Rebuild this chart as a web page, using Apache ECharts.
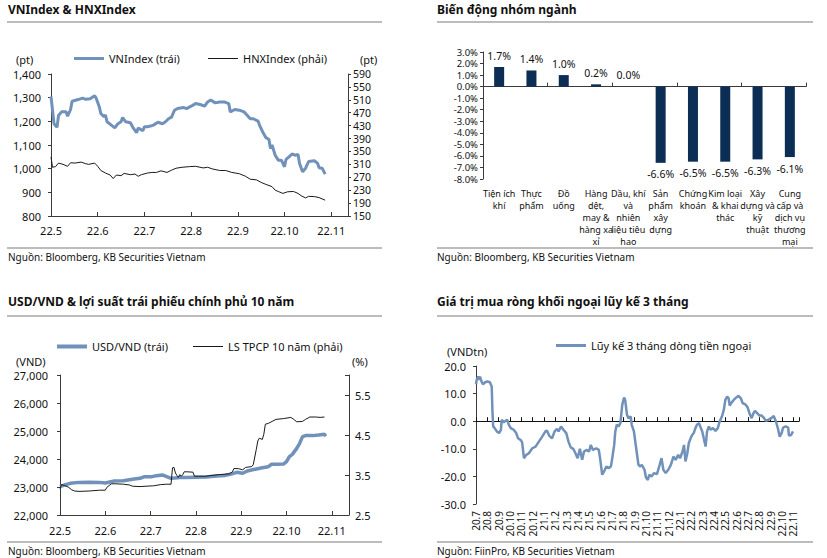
<!DOCTYPE html>
<html><head><meta charset="utf-8">
<script src="https://cdn.jsdelivr.net/npm/echarts@6/dist/echarts.min.js"></script>
<style>html,body{margin:0;padding:0;background:#fff}#c{width:827px;height:558px}</style>
</head><body><div id="c"></div>
<script>
const FONT = '"Noto Sans", "Open Sans", sans-serif';

// ---------- Panel 1: VNIndex & HNXIndex ----------
const vnDates = ['2022-05-01','2022-05-03','2022-05-05','2022-05-06','2022-05-08','2022-05-11','2022-05-12','2022-05-14','2022-05-15','2022-05-19','2022-05-22','2022-05-24','2022-05-27','2022-05-30','2022-05-31',
 '2022-06-02','2022-06-03','2022-06-05','2022-06-06','2022-06-07','2022-06-10','2022-06-12','2022-06-14','2022-06-16','2022-06-17','2022-06-19','2022-06-22','2022-06-24','2022-06-26','2022-06-27','2022-06-30',
 '2022-07-01','2022-07-03','2022-07-05','2022-07-07','2022-07-10','2022-07-13','2022-07-15','2022-07-17','2022-07-19','2022-07-21','2022-07-23','2022-07-27','2022-07-29',
 '2022-08-01','2022-08-04','2022-08-07','2022-08-10','2022-08-12','2022-08-14','2022-08-17','2022-08-20','2022-08-23','2022-08-26','2022-08-27','2022-08-30',
 '2022-09-02','2022-09-05','2022-09-07','2022-09-09','2022-09-11','2022-09-14','2022-09-15','2022-09-17','2022-09-19','2022-09-21','2022-09-22','2022-09-23','2022-09-25','2022-09-27','2022-09-29',
 '2022-10-01','2022-10-02','2022-10-04','2022-10-06','2022-10-08','2022-10-10','2022-10-11','2022-10-13','2022-10-15','2022-10-17','2022-10-21','2022-10-23','2022-10-24','2022-10-26','2022-10-28'];
const vnValues = [1305,1190,1175,1225,1240,1240,1222,1250,1285,1292,1298,1293,1295,1308,1298,
 1262,1233,1220,1226,1198,1183,1172,1190,1198,1216,1198,1194,1170,1152,1172,1160,
 1177,1177,1180,1184,1196,1190,1198,1211,1218,1247,1254,1258,1254,
 1264,1275,1271,1264,1282,1290,1278,1282,1282,1275,1240,1250,
 1247,1240,1226,1211,1211,1201,1183,1155,1132,1123,1085,1100,1057,1036,1036,
 1008,1039,1050,1062,1057,1060,1022,987,1002,1030,1033,1022,1004,1002,977];
const hnxDates = ['2022-05-01','2022-05-02','2022-05-04','2022-05-06','2022-05-09','2022-05-12','2022-05-14','2022-05-17','2022-05-21','2022-05-24','2022-05-26','2022-05-30',
 '2022-06-01','2022-06-03','2022-06-06','2022-06-09','2022-06-11','2022-06-13','2022-06-16','2022-06-18','2022-06-22','2022-06-25','2022-06-27','2022-06-29',
 '2022-07-03','2022-07-06','2022-07-09','2022-07-12','2022-07-16','2022-07-19','2022-07-22','2022-07-26','2022-07-31',
 '2022-08-04','2022-08-09','2022-08-12','2022-08-15','2022-08-20','2022-08-24','2022-08-28',
 '2022-09-02','2022-09-06','2022-09-09','2022-09-13','2022-09-16','2022-09-19','2022-09-23','2022-09-25','2022-09-27','2022-09-30',
 '2022-10-03','2022-10-07','2022-10-10','2022-10-12','2022-10-15','2022-10-17','2022-10-21','2022-10-24','2022-10-28'];
const hnxValues = [333,301,303,314,310,304,315,314,317,312,310,314,
 304,291,283,277,266,277,275,282,278,280,273,278,
 283,285,285,290,285,292,298,301,303,
 304,299,301,296,291,291,285,
 281,273,264,262,254,248,241,230,226,220,
 225,226,220,213,206,211,210,207,199];
const monthLabels2022 = ['22.5','22.6','22.7','22.8','22.9','22.10','22.11'];

// ---------- Panel 2: sector changes ----------
const sectorNames = ['Tiện ích\nkhí','Thực\nphẩm','Đồ\nuống','Hàng\ndệt,\nmay &\nhàng xa\nxỉ','Dầu, khí\nvà\nnhiên\nliệu tiêu\nhao',
 'Sản\nphẩm\nxây\ndựng','Chứng\nkhoán','Kim loại\n& khai\nthác','Xây\ndựng và\nkỹ\nthuật','Cung\ncấp và\ndịch vụ\nthương\nmại'];
const sectorChanges = [1.7,1.4,1.0,0.2,0.0,-6.6,-6.5,-6.5,-6.3,-6.1];

// ---------- Panel 3: USD/VND & 10Y bond yield ----------
const usdDates = ['2022-05-01','2022-05-04','2022-05-08','2022-05-14','2022-05-21','2022-05-28',
 '2022-06-01','2022-06-07','2022-06-13','2022-06-19','2022-06-24','2022-06-27',
 '2022-07-02','2022-07-05','2022-07-09','2022-07-12','2022-07-15','2022-07-21','2022-07-25',
 '2022-08-01','2022-08-08','2022-08-15','2022-08-21','2022-08-26','2022-08-29',
 '2022-09-02','2022-09-05','2022-09-11','2022-09-15','2022-09-19','2022-09-21','2022-09-24','2022-09-29',
 '2022-10-01','2022-10-03','2022-10-05','2022-10-08','2022-10-10','2022-10-12','2022-10-14','2022-10-19','2022-10-23','2022-10-27','2022-10-28'];
const usdValues = [23010,23070,23130,23165,23170,23165,
 23145,23215,23225,23275,23310,23370,
 23370,23405,23430,23370,23310,23335,23335,
 23345,23355,23395,23415,23475,23525,
 23490,23570,23645,23690,23725,23810,23810,23820,
 23905,24085,24165,24380,24560,24800,24835,24835,24855,24880,24820];
const bondDates = ['2022-05-01','2022-05-02','2022-05-04','2022-05-07','2022-05-09','2022-05-11','2022-05-14','2022-05-21','2022-05-28',
 '2022-06-01','2022-06-02','2022-06-05','2022-06-08','2022-06-13','2022-06-17','2022-06-19','2022-06-24','2022-06-28',
 '2022-07-03','2022-07-08','2022-07-12','2022-07-15','2022-07-16','2022-07-17','2022-07-18','2022-07-19','2022-07-20','2022-07-21','2022-07-22','2022-07-23','2022-07-24','2022-07-26','2022-07-30','2022-07-31',
 '2022-08-03','2022-08-08','2022-08-12','2022-08-17','2022-08-24','2022-08-26','2022-08-27','2022-08-30',
 '2022-09-02','2022-09-04','2022-09-08','2022-09-09','2022-09-11','2022-09-12','2022-09-13','2022-09-15','2022-09-16','2022-09-17','2022-09-19','2022-09-22','2022-09-24','2022-09-29',
 '2022-10-04','2022-10-06','2022-10-08','2022-10-12','2022-10-14','2022-10-17','2022-10-21','2022-10-24','2022-10-27'];
const bondValues = [3.16,3.26,3.24,3.19,3.13,3.10,3.09,3.10,3.12,
 3.12,3.19,3.28,3.28,3.27,3.25,3.22,3.21,3.22,
 3.23,3.26,3.27,3.27,3.68,3.69,3.55,3.49,3.44,3.51,3.47,3.51,3.58,3.58,3.57,3.47,
 3.47,3.47,3.49,3.51,3.53,3.58,3.66,3.66,
 3.63,3.69,3.71,3.76,4.14,4.35,4.42,4.39,4.52,4.77,4.79,4.85,4.89,4.91,
 4.94,4.89,4.83,4.84,4.89,4.95,4.95,4.94,4.95];

// ---------- Panel 4: foreign net buying, 3-month cumulative ----------
const flowDates = ['2020-07-01','2020-07-03','2020-07-07','2020-07-10','2020-07-12','2020-07-16','2020-07-20','2020-07-26','2020-08-01','2020-08-08','2020-08-13','2020-08-15','2020-08-17','2020-08-21','2020-08-27',
 '2020-09-02','2020-09-07','2020-09-09','2020-09-14','2020-09-19','2020-09-24','2020-09-28','2020-10-03','2020-10-11','2020-10-18','2020-10-23','2020-10-30','2020-11-03','2020-11-08','2020-11-14','2020-11-21','2020-11-30',
 '2020-12-09','2020-12-18','2020-12-27','2021-01-05','2021-01-09','2021-01-15','2021-01-23','2021-01-30','2021-02-05','2021-02-09','2021-02-15','2021-02-21','2021-02-28',
 '2021-03-06','2021-03-12','2021-03-19','2021-03-25','2021-03-31','2021-04-06','2021-04-12','2021-04-17','2021-04-24','2021-04-30','2021-05-05','2021-05-11','2021-05-20','2021-05-27','2021-05-31',
 '2021-06-05','2021-06-10','2021-06-16','2021-06-22','2021-06-28','2021-07-01','2021-07-07','2021-07-10','2021-07-14','2021-07-19','2021-07-24','2021-07-29','2021-08-03','2021-08-06','2021-08-11','2021-08-15','2021-08-21','2021-08-24','2021-08-30',
 '2021-09-05','2021-09-11','2021-09-16','2021-09-20','2021-09-27','2021-10-01','2021-10-06','2021-10-10','2021-10-16','2021-10-23','2021-10-31','2021-11-06','2021-11-12','2021-11-17','2021-11-23','2021-11-30',
 '2021-12-07','2021-12-14','2021-12-20','2021-12-27','2022-01-01','2022-01-08','2022-01-12','2022-01-16','2022-01-21','2022-01-25','2022-01-30','2022-02-03','2022-02-07','2022-02-11','2022-02-15','2022-02-20','2022-02-24','2022-02-28',
 '2022-03-04','2022-03-09','2022-03-13','2022-03-18','2022-03-22','2022-03-29','2022-04-05','2022-04-11','2022-04-16','2022-04-22','2022-04-27','2022-05-01','2022-05-06','2022-05-10','2022-05-13','2022-05-19','2022-05-24','2022-05-31',
 '2022-06-06','2022-06-12','2022-06-17','2022-06-23','2022-06-30','2022-07-05','2022-07-11','2022-07-16','2022-07-20','2022-07-26','2022-08-01','2022-08-07','2022-08-14','2022-08-19','2022-08-25',
 '2022-09-03','2022-09-09','2022-09-15','2022-09-21','2022-09-25','2022-09-30','2022-10-04','2022-10-11','2022-10-18','2022-10-20','2022-10-26','2022-10-31'];
const flowValues = [13.4,15.0,16.2,15.0,16.2,14.4,13.4,14.1,14.4,14.1,12.6,3.5,-1.9,-2.5,-3.7,
 -4.3,-3.1,0.5,-0.4,0.1,0.5,-1.3,-2.5,-3.1,-4.3,-6.2,-6.8,-7.6,-13.4,-12.2,-11.6,-9.8,
 -9.2,-7.4,-5.6,-3.7,-3.4,-5.2,-6.2,-3.7,-2.8,-3.7,-1.9,-3.1,-4.3,
 -7.4,-9.5,-10.0,-11.6,-13.4,-10.0,-14.0,-11.0,-10.4,-11.0,-8.6,-10.4,-9.8,-10.4,-14.0,
 -19.4,-18.2,-16.4,-17.0,-16.4,-14.0,-8.6,-3.7,-1.3,-1.9,-0.7,5.9,8.6,7.7,2.3,1.1,1.7,-1.3,-3.7,
 -9.8,-15.8,-16.4,-15.8,-17.6,-20.4,-21.3,-19.4,-20.0,-18.8,-19.2,-16.4,-13.4,-17.6,-18.8,-17.6,
 -15.8,-12.8,-14.0,-12.2,-13.4,-11.0,-8.6,-14.6,-11.6,-8.0,-6.2,-5.0,-4.3,-2.5,-1.3,-0.7,-2.3,-3.7,
 -6.2,-9.2,-3.7,-1.9,-3.1,-2.5,-3.5,-2.5,-0.1,1.7,4.1,7.7,8.9,8.3,5.7,6.9,7.7,8.6,
 9.2,8.3,6.5,6.2,5.0,2.9,1.1,2.9,3.7,2.9,2.1,2.1,1.1,0.1,0.5,
 1.1,1.9,-0.1,-3.1,-5.6,-4.3,-2.3,-1.9,-2.3,-5.2,-5.0,-3.7];
const monthLabelsFlow = ['20.7','20.8','20.9','20.10','20.11','20.12','21.1','21.2','21.3','21.4','21.5','21.6','21.7','21.8','21.9','21.10','21.11','21.12',
 '22.1','22.2','22.3','22.4','22.5','22.6','22.7','22.8','22.9','22.10','22.11'];

// ---------- helpers ----------
function monthPos(s, y0, m0) {
  const p = s.split('-').map(Number);
  const dim = new Date(p[0], p[1], 0).getDate();
  return (p[0] - y0) * 12 + (p[1] - m0) + (p[2] - 1) / dim;
}
function pairs(dates, vals, y0, m0) { return dates.map((d, i) => [monthPos(d, y0, m0), vals[i]]); }
function tickFmt(labels) {
  return function (v) { const r = Math.round(v); return (Math.abs(v - r) < 1e-6 && labels[r] !== undefined) ? labels[r] : ''; };
}
const comma = v => Math.round(v).toLocaleString('en-US');

const BLUE = '#7091ba';
const DARK = '#1a1a1a';
const AX = '#3a3a3a';
const LBL = { color: '#111', fontFamily: FONT, fontSize: 11 };
const rule = '#a6a6a6';

function hLine(x1, x2, y) { return { type: 'line', shape: { x1: x1, y1: y, x2: x2, y2: y }, style: { stroke: rule, lineWidth: 1.5 }, silent: true }; }
function txt(x, y, t, size) { return { type: 'text', x: x, y: y, style: { text: t, fontSize: size || 11, fontFamily: FONT, fill: '#111', verticalAlign: 'middle' }, silent: true }; }
function leg(name, left, top, h) {
  return { data: [name], left: left, top: top, padding: 0, icon: 'rect', itemWidth: 30, itemHeight: h, itemGap: 0, textStyle: LBL };
}

const titleStyle = { fontSize: 12, fontWeight: 'bold', fontFamily: FONT, color: '#111' };

const option = {
  animation: false,
  textStyle: { fontFamily: FONT },
  title: [
    { text: 'VNIndex & HNXIndex', left: 8, top: 3, padding: 0, textStyle: titleStyle },
    { text: 'Biến động nhóm ngành', left: 437, top: 3, padding: 0, textStyle: titleStyle },
    { text: 'USD/VND & lợi suất trái phiếu chính phủ 10 năm', left: 8, top: 295, padding: 0, textStyle: titleStyle },
    { text: 'Giá trị mua ròng khối ngoại lũy kế 3 tháng', left: 437, top: 295, padding: 0, textStyle: titleStyle }
  ],
  graphic: [
    hLine(7, 382, 22), hLine(7, 382, 248), hLine(437, 813, 22), hLine(437, 813, 248),
    hLine(7, 382, 316), hLine(7, 382, 542), hLine(437, 813, 316), hLine(437, 813, 542),
    txt(8, 257, 'Nguồn: Bloomberg, KB Securities Vietnam', 10),
    txt(437, 257, 'Nguồn: Bloomberg, KB Securities Vietnam', 10),
    txt(8, 551, 'Nguồn: Bloomberg, KB Securities Vietnam', 10),
    txt(437, 551, 'Nguồn: FiinPro, KB Securities Vietnam', 10),
    txt(16, 59, '(pt)'), txt(360, 59, '(pt)'),
    txt(16, 361, '(VND)'), txt(352, 361, '(%)'),
    txt(447, 351, '(VNDtn)')
  ],
  legend: [
    leg('VNIndex (trái)', 74, 53, 3),
    leg('HNXIndex (phải)', 208, 53, 1),
    leg('USD/VND (trái)', 57, 341, 4),
    leg('LS TPCP 10 năm (phải)', 193, 341, 1),
    leg('Lũy kế 3 tháng dòng tiền ngoại', 556, 340, 3)
  ],
  grid: [
    { left: 51, top: 74, width: 297, height: 142 },
    { left: 483, top: 52, width: 323, height: 127 },
    { left: 60, top: 375, width: 289, height: 140 },
    { left: 476, top: 366, width: 323, height: 138 }
  ],
  xAxis: [
    { gridIndex: 0, type: 'value', min: 0, max: 6.36, interval: 1, position: 'bottom',
      axisLine: { show: true, onZero: false, lineStyle: { color: AX } }, axisTick: { show: true, inside: true, length: 4, lineStyle: { color: AX } },
      splitLine: { show: false }, axisLabel: Object.assign({ margin: 9, formatter: tickFmt(monthLabels2022), showMaxLabel: false }, LBL) },
    { gridIndex: 1, type: 'category', data: sectorNames, position: 'bottom',
      axisLine: { show: false, onZero: false }, axisTick: { show: false },
      axisLabel: Object.assign({}, LBL, { interval: 0, fontSize: 9, lineHeight: 12, margin: 8 }) },
    { gridIndex: 1, type: 'category', data: sectorNames, position: 'bottom',
      axisLine: { show: true, onZero: true, lineStyle: { color: AX } }, axisTick: { show: true, inside: true, length: 4, lineStyle: { color: AX } },
      axisLabel: { show: false } },
    { gridIndex: 2, type: 'value', min: 0, max: 6.38, interval: 1, position: 'bottom',
      axisLine: { show: true, onZero: false, lineStyle: { color: AX } }, axisTick: { show: true, inside: true, length: 4, lineStyle: { color: AX } },
      splitLine: { show: false }, axisLabel: Object.assign({ margin: 10, formatter: tickFmt(monthLabels2022), showMaxLabel: false }, LBL) },
    { gridIndex: 3, type: 'value', min: 0, max: 28.5, interval: 1, position: 'bottom',
      axisLine: { show: false, onZero: false }, axisTick: { show: false }, splitLine: { show: false },
      axisLabel: Object.assign({}, LBL, { fontSize: 10, lineHeight: 11, rotate: 90, margin: 7, formatter: tickFmt(monthLabelsFlow), showMaxLabel: false }) },
    { gridIndex: 3, type: 'value', min: 0, max: 28.5, interval: 1, position: 'bottom',
      axisLine: { show: true, onZero: true, lineStyle: { color: '#111' } }, axisTick: { show: true, inside: true, length: 4, lineStyle: { color: '#111' } },
      splitLine: { show: false }, axisLabel: { show: false } }
  ],
  yAxis: [
    { gridIndex: 0, type: 'value', min: 800, max: 1400, interval: 100, position: 'left',
      axisLine: { show: true, lineStyle: { color: AX } }, axisTick: { show: true, length: 3, lineStyle: { color: AX } }, splitLine: { show: false },
      axisLabel: Object.assign({ margin: 10, formatter: comma }, LBL) },
    { gridIndex: 0, type: 'value', min: 150, max: 590, interval: 40, position: 'right',
      axisLine: { show: true, lineStyle: { color: AX } }, axisTick: { show: true, length: 3, lineStyle: { color: AX } }, splitLine: { show: false },
      axisLabel: Object.assign({}, LBL, { margin: 5, fontSize: 10.5, lineHeight: 11 }) },
    { gridIndex: 1, type: 'value', min: -8, max: 3, interval: 1, position: 'left',
      axisLine: { show: true, lineStyle: { color: AX } }, axisTick: { show: true, length: 3, lineStyle: { color: AX } }, splitLine: { show: false },
      axisLabel: Object.assign({}, LBL, { fontSize: 9.5, lineHeight: 10, margin: 5, formatter: v => v.toFixed(1) + '%' }) },
    { gridIndex: 2, type: 'value', min: 22000, max: 27000, interval: 1000, position: 'left',
      axisLine: { show: true, lineStyle: { color: AX } }, axisTick: { show: true, length: 3, lineStyle: { color: AX } }, splitLine: { show: false },
      axisLabel: Object.assign({ margin: 12, formatter: comma }, LBL) },
    { gridIndex: 2, type: 'value', min: 2.5, max: 6, interval: 1, position: 'right',
      axisLine: { show: true, lineStyle: { color: AX } }, axisTick: { show: true, inside: true, length: 4, lineStyle: { color: AX } }, splitLine: { show: false },
      axisLabel: Object.assign({ margin: 6, formatter: v => (v > 5.9 ? '' : v.toFixed(1)) }, LBL) },
    { gridIndex: 3, type: 'value', min: -30, max: 20, interval: 10, position: 'left',
      axisLine: { show: true, lineStyle: { color: AX } }, axisTick: { show: true, length: 3, lineStyle: { color: AX } }, splitLine: { show: false },
      axisLabel: Object.assign({ margin: 10, formatter: v => v.toFixed(1) }, LBL) }
  ],
  series: [
    { name: 'VNIndex (trái)', type: 'line', xAxisIndex: 0, yAxisIndex: 0, data: pairs(vnDates, vnValues, 2022, 5),
      symbol: 'none', lineStyle: { color: BLUE, width: 3 }, itemStyle: { color: BLUE } },
    { name: 'HNXIndex (phải)', type: 'line', xAxisIndex: 0, yAxisIndex: 1, data: pairs(hnxDates, hnxValues, 2022, 5),
      symbol: 'none', lineStyle: { color: DARK, width: 1 }, itemStyle: { color: DARK } },
    { name: 'sector', type: 'bar', xAxisIndex: 1, yAxisIndex: 2, barWidth: 10,
      itemStyle: { color: '#0c2d54' },
      data: sectorChanges.map(v => ({ value: v, label: { position: v < 0 ? 'bottom' : 'top' } })),
      label: { show: true, distance: 6, color: '#111', fontFamily: FONT, fontSize: 10.5, formatter: p => p.value.toFixed(1) + '%' } },
    { name: 'USD/VND (trái)', type: 'line', xAxisIndex: 3, yAxisIndex: 3, data: pairs(usdDates, usdValues, 2022, 5),
      symbol: 'none', lineStyle: { color: BLUE, width: 3.5 }, itemStyle: { color: BLUE } },
    { name: 'LS TPCP 10 năm (phải)', type: 'line', xAxisIndex: 3, yAxisIndex: 4, data: pairs(bondDates, bondValues, 2022, 5),
      symbol: 'none', lineStyle: { color: DARK, width: 1 }, itemStyle: { color: DARK } },
    { name: 'Lũy kế 3 tháng dòng tiền ngoại', type: 'line', xAxisIndex: 4, yAxisIndex: 5, data: pairs(flowDates, flowValues, 2020, 7),
      symbol: 'none', lineStyle: { color: BLUE, width: 2.5 }, itemStyle: { color: BLUE } }
  ]
};

const chart = echarts.init(document.getElementById('c'), null, { renderer: 'svg', width: 827, height: 558 });
chart.setOption(option);
</script>
</body></html>
